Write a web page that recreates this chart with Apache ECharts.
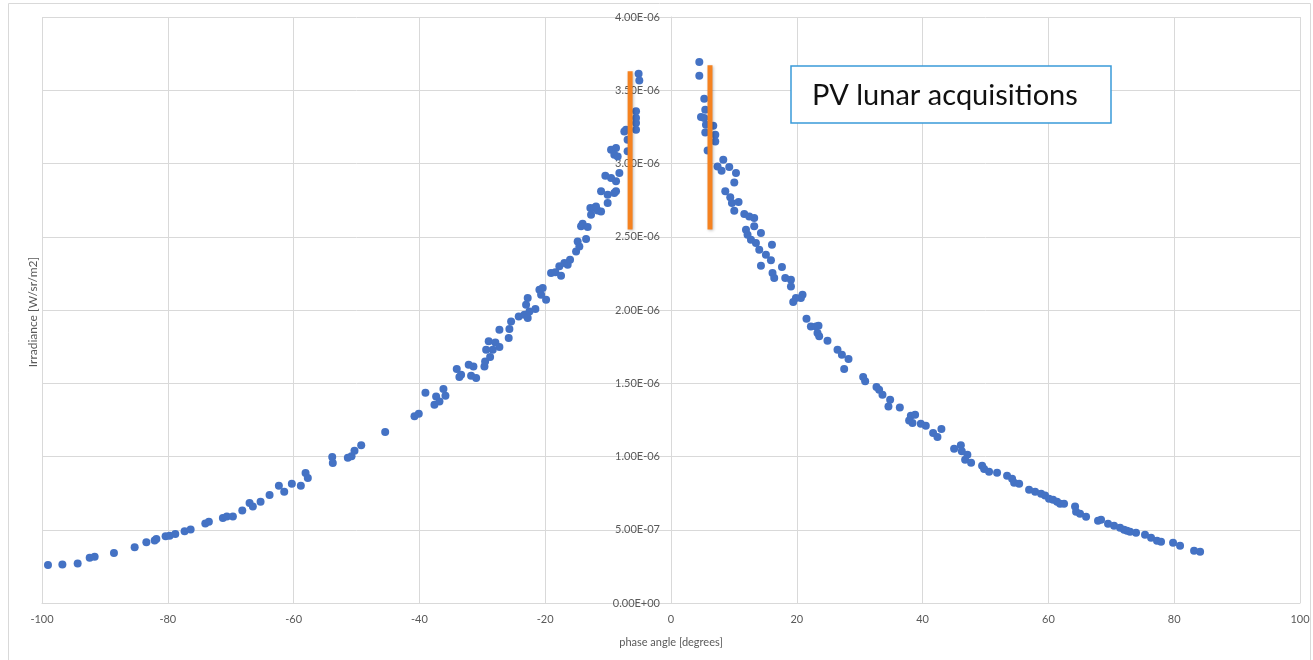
<!DOCTYPE html>
<html>
<head>
<meta charset="utf-8">
<script src="https://cdn.jsdelivr.net/npm/echarts@6/dist/echarts.min.js"></script>
<style>
  html, body { margin: 0; padding: 0; background: #fff; }
  #chart { width: 1313px; height: 660px; }
</style>
</head>
<body>
<div id="chart"></div>
<script>
  // phase angle [deg] and irradiance in units of 1E-06 W/sr/m2
  const phaseAngle = [
    -99.05, -96.76, -94.33, -92.42, -91.63, -88.56, -85.27, -83.41, -82.09, -81.82,
    -80.35, -79.71, -78.81, -77.33, -76.37, -74.04, -73.47, -71.24, -70.61, -69.65,
    -68.16, -67.0, -66.48, -65.25, -63.82, -62.34, -61.49, -60.28, -58.85, -58.10,
    -57.74, -53.86, -53.77, -51.38, -50.79, -50.32, -49.25, -45.44, -40.78, -40.10,
    -39.04, -37.61, -37.34, -36.81, -36.18, -35.86, -34.06, -33.37, -33.64, -32.16,
    -31.41, -31.78, -30.98, -29.66, -29.55, -28.76, -29.39, -28.98, -28.34, -27.92,
    -27.28, -27.28, -25.80, -25.69, -25.42, -24.21, -23.31, -22.78, -22.51, -21.56,
    -23.04, -22.78, -20.92, -20.40, -20.65, -19.86, -19.07, -18.38, -17.75, -17.48,
    -16.95, -16.43, -16.05, -15.09, -14.84, -14.57, -13.50, -14.30, -14.05, -13.25,
    -12.71, -12.82, -12.19, -11.66, -11.12, -11.92, -10.07, -11.12, -10.07, -9.01,
    -8.74, -10.44, -9.53, -8.74, -8.21, -9.53, -8.74, -9.01, -8.48, -6.90,
    -6.90, -7.42, -7.15, -5.56, -5.56, -5.56, -5.56, -5.15, -5.04,
    4.50, 4.50, 5.29, 5.45, 4.77, 5.29, 5.56, 5.45, 6.72, 7.04,
    7.04, 5.82, 8.31, 7.40, 8.04, 9.26, 10.33, 10.06, 8.63, 9.42,
    9.69, 10.74, 10.06, 11.65, 12.44, 13.23, 11.92, 13.23, 14.30, 12.17,
    12.71, 13.50, 14.03, 16.05, 15.09, 15.89, 14.30, 17.64, 16.14, 16.41,
    18.16, 19.07, 19.07, 20.91, 19.86, 20.65, 19.43, 21.54, 22.24, 23.04,
    23.45, 23.29, 23.56, 24.88, 26.47, 27.17, 28.22, 27.53, 30.55, 30.87,
    32.67, 33.09, 33.62, 34.84, 34.57, 36.38, 38.13, 38.81, 37.86, 38.39,
    39.72, 40.51, 41.67, 42.36, 42.99, 45.01, 46.08, 46.23, 47.12, 46.76,
    47.71, 49.46, 49.78, 50.57, 51.84, 53.43, 54.23, 54.55, 55.35, 56.93,
    57.89, 58.84, 59.47, 60.10, 60.74, 61.38, 61.86, 62.49, 64.24, 64.40,
    65.03, 65.99, 67.89, 68.37, 69.48, 70.44, 71.39, 72.03, 72.50, 72.98,
    73.93, 75.36, 76.32, 77.27, 77.91, 79.82, 80.93, 83.16, 84.12
  ];
  const irradiance = [
    0.259, 0.263, 0.270, 0.309, 0.316, 0.341, 0.380, 0.414, 0.427, 0.437,
    0.455, 0.459, 0.471, 0.489, 0.502, 0.543, 0.555, 0.580, 0.591, 0.591,
    0.632, 0.683, 0.659, 0.691, 0.737, 0.801, 0.760, 0.814, 0.801, 0.887,
    0.853, 0.997, 0.956, 0.992, 1.001, 1.040, 1.076, 1.167, 1.274, 1.292,
    1.435, 1.354, 1.410, 1.376, 1.461, 1.415, 1.597, 1.558, 1.543, 1.627,
    1.615, 1.552, 1.536, 1.615, 1.649, 1.679, 1.729, 1.786, 1.729, 1.779,
    1.747, 1.866, 1.809, 1.870, 1.922, 1.956, 1.968, 1.945, 1.990, 2.007,
    2.036, 2.082, 2.139, 2.150, 2.104, 2.070, 2.253, 2.257, 2.298, 2.234,
    2.321, 2.309, 2.343, 2.400, 2.468, 2.434, 2.485, 2.571, 2.589, 2.567,
    2.651, 2.696, 2.696, 2.680, 2.673, 2.707, 2.730, 2.810, 2.787, 2.799,
    2.810, 2.917, 2.901, 2.878, 2.935, 3.094, 3.106, 3.060, 3.048, 3.083,
    3.162, 3.219, 3.231, 3.276, 3.231, 3.311, 3.356, 3.613, 3.567,
    3.693, 3.599, 3.442, 3.367, 3.317, 3.311, 3.265, 3.212, 3.258, 3.197,
    3.151, 3.089, 3.026, 2.980, 2.951, 2.976, 2.935, 2.871, 2.810, 2.769,
    2.730, 2.737, 2.678, 2.655, 2.639, 2.628, 2.548, 2.571, 2.526, 2.514,
    2.480, 2.457, 2.412, 2.446, 2.377, 2.339, 2.302, 2.294, 2.253, 2.218,
    2.218, 2.207, 2.161, 2.104, 2.082, 2.082, 2.055, 1.941, 1.888, 1.888,
    1.893, 1.843, 1.820, 1.790, 1.729, 1.695, 1.666, 1.597, 1.543, 1.513,
    1.474, 1.456, 1.422, 1.388, 1.342, 1.335, 1.278, 1.285, 1.246, 1.229,
    1.224, 1.210, 1.160, 1.133, 1.188, 1.053, 1.076, 1.035, 1.012, 0.978,
    0.958, 0.937, 0.915, 0.896, 0.889, 0.869, 0.848, 0.821, 0.814, 0.773,
    0.760, 0.746, 0.733, 0.712, 0.705, 0.691, 0.678, 0.678, 0.658, 0.623,
    0.610, 0.589, 0.562, 0.569, 0.541, 0.528, 0.514, 0.500, 0.494, 0.487,
    0.480, 0.466, 0.446, 0.425, 0.418, 0.411, 0.391, 0.357, 0.350
  ];
  // orange marker bars: [angle, bottom, top]
  const markerBars = [
    [-6.5, 2.55, 3.63],
    [6.2, 2.55, 3.67]
  ];

  const axisGrey = '#d9d9d9';
  const labelGrey = '#595959';
  const gridLeft = 42;
  const gridRight = 13;
  const plotWidth = 1313 - gridLeft - gridRight;

  const fmtIrr = (v) => {
    if (v === 0) return '0.00E+00';
    if (v >= 1) return v.toFixed(2) + 'E-06';
    return (v * 10).toFixed(2) + 'E-07';
  };

  const chart = echarts.init(document.getElementById('chart'));
  const series = [
    {
      type: 'scatter',
      data: phaseAngle.map((x, i) => [x, irradiance[i]]),
      symbolSize: 8,
      itemStyle: { color: '#4472c4', opacity: 1 },
      z: 3
    }
  ];
  markerBars.forEach((b) => {
    series.push({
      type: 'line',
      data: [[b[0], b[1]], [b[0], b[2]]],
      symbol: 'none',
      lineStyle: {
        color: '#f58220',
        width: 5,
        cap: 'butt',
        shadowColor: 'rgba(0,0,0,0.25)',
        shadowBlur: 3,
        shadowOffsetX: 1,
        shadowOffsetY: 1
      },
      z: 5
    });
  });

  chart.setOption({
    animation: false,
    grid: {
      left: gridLeft, right: gridRight, top: 17, bottom: 57,
      containLabel: false, outerBoundsMode: 'none'
    },
    xAxis: {
      type: 'value',
      min: -100,
      max: 100,
      interval: 20,
      name: 'phase angle [degrees]',
      nameLocation: 'middle',
      nameGap: 34,
      nameTextStyle: { color: labelGrey, fontSize: 11, fontFamily: 'Lato' },
      axisLine: { onZero: false, lineStyle: { color: axisGrey, width: 1 } },
      axisTick: { show: false },
      axisLabel: { color: labelGrey, fontSize: 11, fontFamily: 'Lato', margin: 11 },
      splitLine: { show: true, lineStyle: { color: axisGrey, width: 1 } }
    },
    yAxis: {
      type: 'value',
      min: 0,
      max: 4,
      interval: 0.5,
      // axis sits on phase angle 0, in the middle of the plot
      offset: -plotWidth / 2,
      axisLine: { show: true, onZero: false, lineStyle: { color: axisGrey, width: 1 } },
      axisTick: { show: false },
      axisLabel: { color: labelGrey, fontSize: 11, fontFamily: 'Lato', margin: 11, formatter: fmtIrr },
      splitLine: { show: true, lineStyle: { color: axisGrey, width: 1 } }
    },
    graphic: [
      {
        type: 'rect',
        shape: { x: 8.5, y: 3.5, width: 1302, height: 700 },
        style: { fill: 'none', stroke: '#d9d9d9', lineWidth: 1 },
        silent: true
      },
      {
        type: 'text',
        x: 33,
        y: 312,
        rotation: Math.PI / 2,
        style: {
          text: 'Irradiance [W/sr/m2]',
          fill: labelGrey,
          font: '12px Lato',
          align: 'center',
          verticalAlign: 'middle'
        }
      },
      {
        type: 'rect',
        shape: { x: 791, y: 66, width: 320, height: 57 },
        style: { fill: '#fff', stroke: '#3a9ad9', lineWidth: 1.5 },
        z: 10
      },
      {
        type: 'text',
        x: 812,
        y: 96,
        style: {
          text: 'PV lunar acquisitions',
          fill: '#111',
          font: '29px Lato',
          verticalAlign: 'middle'
        },
        z: 11
      }
    ],
    series: series
  });
</script>
</body>
</html>
